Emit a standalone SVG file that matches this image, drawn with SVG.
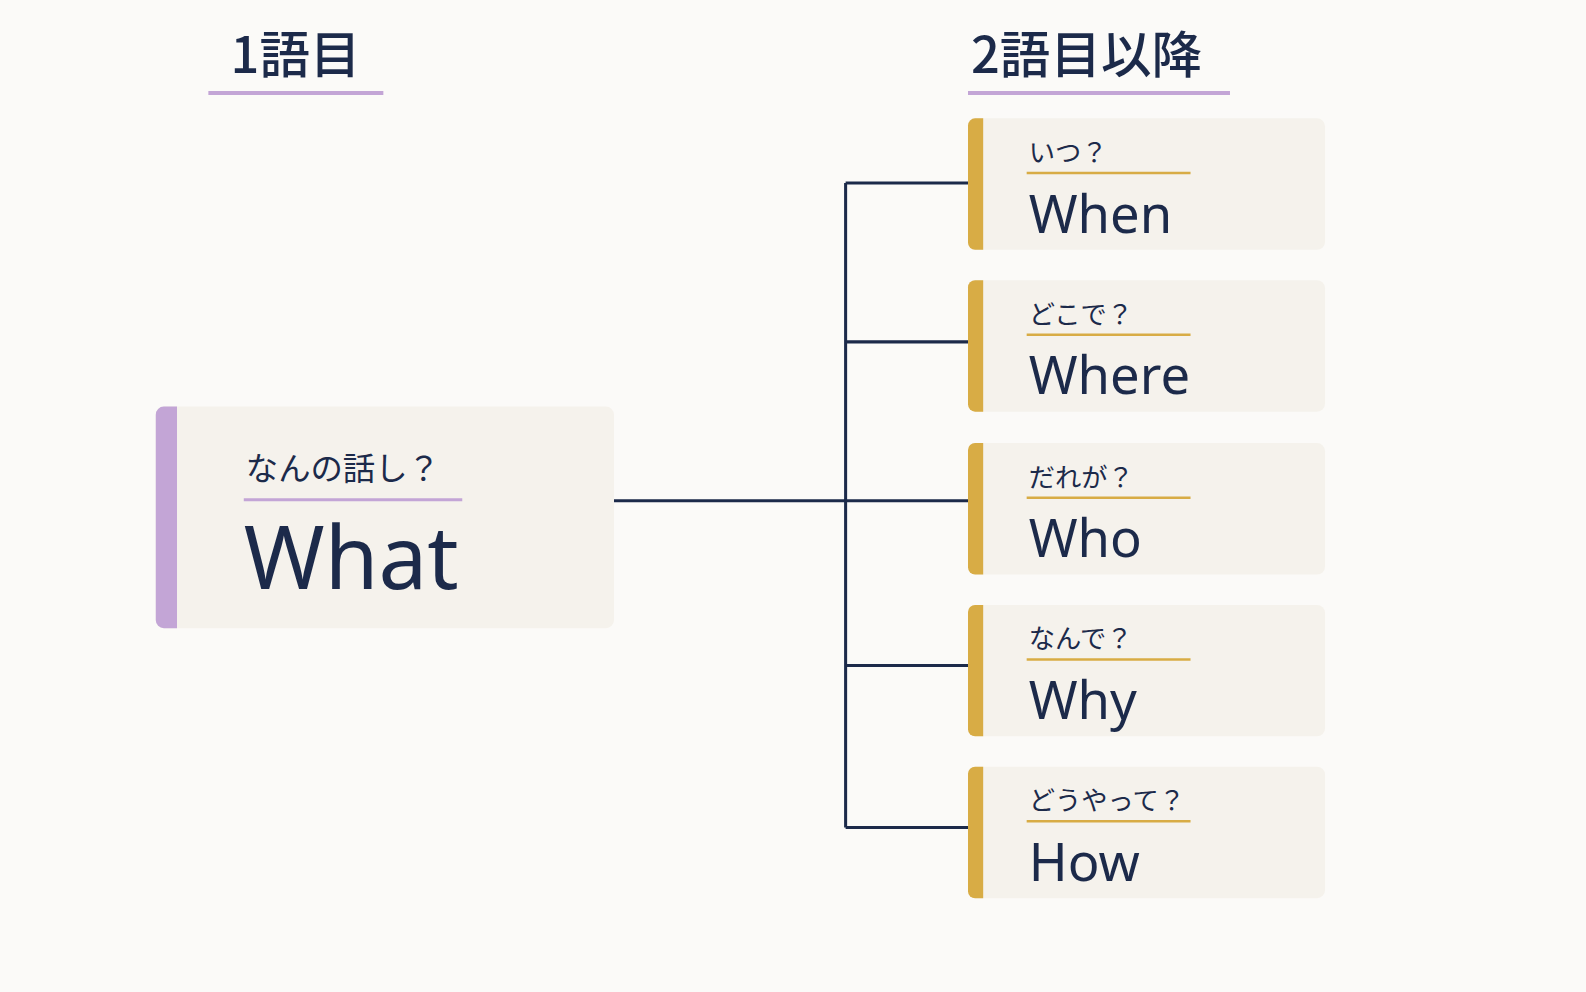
<svg xmlns="http://www.w3.org/2000/svg" width="1586" height="992" viewBox="0 0 1586 992">
<style>
.t{font-family:"Noto Sans CJK JP","Noto Sans",sans-serif;fill:#1c2a4a}
.h{font-size:50px;font-weight:500}
.s{font-size:26px}
.b{font-size:52px;font-family:"Noto Sans","Noto Sans CJK JP",sans-serif}
.card{fill:#f5f2ec}
.gold{fill:#d8ac45}
.gl{stroke:#d8ac45;stroke-width:2.5}
.con{stroke:#1c2a4a;stroke-width:3;fill:none}
</style>
<rect width="1586" height="992" fill="#fbfaf8"/>
<g transform="scale(1.0115)">
<g id="titles">
<text class="t h" x="228" y="72">1語目</text>
<line x1="206" y1="92" x2="379" y2="92" stroke="#c3a5d6" stroke-width="4"/>
<text class="t h" x="960" y="72">2語目以降</text>
<line x1="957" y1="92" x2="1216" y2="92" stroke="#c3a5d6" stroke-width="4"/>
</g>
<g id="connectors">
<path class="con" d="M607 495H836M836 181V818M836 181H957M836 338H957M836 495H957M836 658H957M836 818H957"/>
</g>
<g id="what">
<rect class="card" x="154" y="402" width="453" height="219" rx="8"/>
<path d="M162 402H175V621H162A8 8 0 0 1 154 613V410A8 8 0 0 1 162 402Z" fill="#c3a5d6"/>
<text class="t" x="243" y="475" font-size="32">なんの話し？</text>
<line x1="241" y1="494" x2="457" y2="494" stroke="#c3a5d6" stroke-width="3"/>
<text class="t b" x="241" y="582" style="font-size:86px">What</text>
</g>
<g id="when">
<rect class="card" x="957" y="117" width="353" height="130" rx="8"/>
<path class="gold" d="M964 117H972V247H964A7 7 0 0 1 957 240V124A7 7 0 0 1 964 117Z"/>
<text class="t s" x="1017" y="160">いつ？</text>
<line class="gl" x1="1015" y1="171" x2="1177" y2="171"/>
<text class="t b" x="1017" y="230">When</text>
</g>
<g id="where">
<rect class="card" x="957" y="277" width="353" height="130" rx="8"/>
<path class="gold" d="M964 277H972V407H964A7 7 0 0 1 957 400V284A7 7 0 0 1 964 277Z"/>
<text class="t s" x="1017" y="320">どこで？</text>
<line class="gl" x1="1015" y1="331" x2="1177" y2="331"/>
<text class="t b" x="1017" y="390">Where</text>
</g>
<g id="who">
<rect class="card" x="957" y="438" width="353" height="130" rx="8"/>
<path class="gold" d="M964 438H972V568H964A7 7 0 0 1 957 561V445A7 7 0 0 1 964 438Z"/>
<text class="t s" x="1017" y="481">だれが？</text>
<line class="gl" x1="1015" y1="492" x2="1177" y2="492"/>
<text class="t b" x="1017" y="551">Who</text>
</g>
<g id="why">
<rect class="card" x="957" y="598" width="353" height="130" rx="8"/>
<path class="gold" d="M964 598H972V728H964A7 7 0 0 1 957 721V605A7 7 0 0 1 964 598Z"/>
<text class="t s" x="1017" y="641">なんで？</text>
<line class="gl" x1="1015" y1="652" x2="1177" y2="652"/>
<text class="t b" x="1017" y="711">Why</text>
</g>
<g id="how">
<rect class="card" x="957" y="758" width="353" height="130" rx="8"/>
<path class="gold" d="M964 758H972V888H964A7 7 0 0 1 957 881V765A7 7 0 0 1 964 758Z"/>
<text class="t s" x="1017" y="801">どうやって？</text>
<line class="gl" x1="1015" y1="812" x2="1177" y2="812"/>
<text class="t b" x="1017" y="871">How</text>
</g>
</g>
</svg>
